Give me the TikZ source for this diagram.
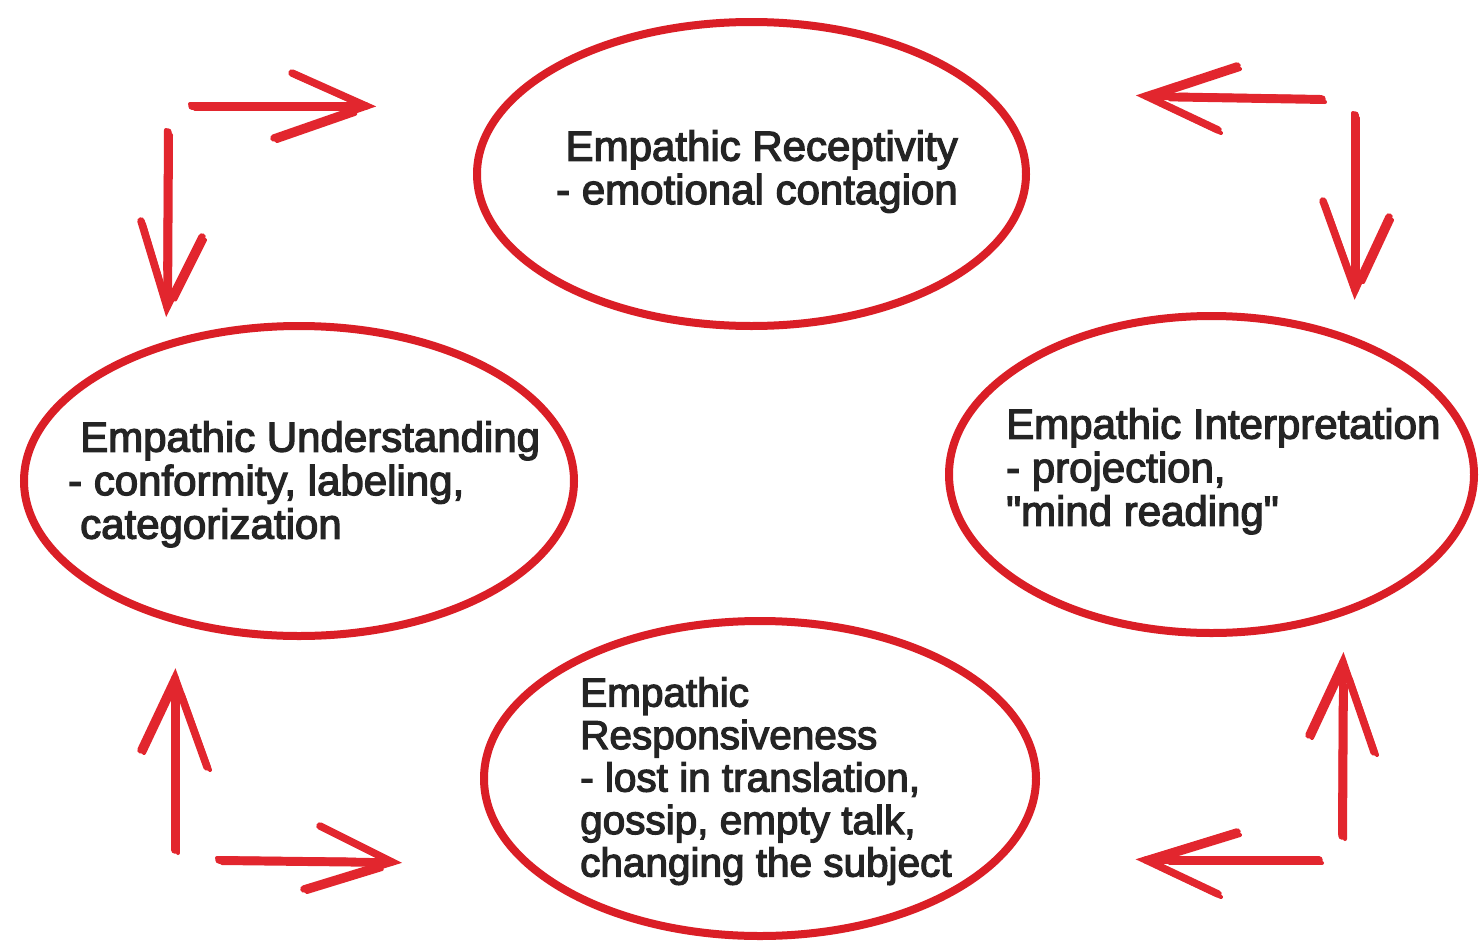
\documentclass[tikz,border=0pt]{standalone}
\usepackage{fontspec}
\newfontfamily\labfont{Liberation Sans}[FakeBold=3]
\usetikzlibrary{shapes.geometric,calc}
\definecolor{ered}{RGB}{218,30,38}
\definecolor{ared}{RGB}{226,38,46}
\definecolor{txt}{RGB}{36,36,36}
\newcommand{\sketcharrow}[4]{%
  \draw[arrmain] (#1) -- (#2);
  \draw[arrmain] (#3) -- (#2) -- (#4);
  \draw[arrthin] ($(#1)+(3,3)$) -- ($(#2)!0.12!(#1)+(3,3)$);
  \draw[arrthin] ($(#3)+(3,3)$) -- ($(#2)!0.15!(#3)+(3,3)$);
  \draw[arrthin] ($(#4)+(3,3)$) -- ($(#2)!0.15!(#4)+(3,3)$);
  \draw[arrthin] ($(#1)+(-2,-2)$) -- ($(#2)!0.2!(#1)+(-2,-2)$);
}
\begin{document}
\begin{tikzpicture}[x=1pt,y=-1pt,
  oval/.style={ellipse,draw=ered,line width=8pt,inner sep=0pt},
  lbl/.style={font=\labfont\fontsize{42}{43.5}\selectfont,text=txt,inner sep=0pt},
  arrmain/.style={draw=ared,line width=7.5pt,line cap=round,line join=miter},
  arrthin/.style={draw=ared,line width=4pt,line cap=round}]
\useasboundingbox[fill=white] (0,0) rectangle (1484,945);

% ellipses
\node[oval,minimum width=549pt,minimum height=304pt] (rec) at (751.5,174) {};
\node[oval,minimum width=550pt,minimum height=310pt] (und) at (299,481) {};
\node[oval,minimum width=525pt,minimum height=317pt] (int) at (1211.5,474.5) {};
\node[oval,minimum width=552pt,minimum height=315pt] (res) at (760,778.5) {};

% texts
\node[lbl,align=right,anchor=north east] (trec) at (958,130)
  {Empathic Receptivity\\- emotional contagion};
\node[lbl,align=left,anchor=north west] (tund) at (80,421)
  {Empathic Understanding\\\hspace*{-12pt}- conformity, labeling,\\categorization};
\node[lbl,align=left,anchor=north west] (tint) at (1006,408)
  {Empathic Interpretation\\- projection,\\"mind reading"};
\node[lbl,align=left,anchor=north west,font=\labfont\fontsize{40.5}{42.5}\selectfont] (tres) at (580,677)
  {Empathic\\Responsiveness\\- lost in translation,\\gossip, empty talk,\\changing the subject};

% arrow coordinates
\coordinate (a1s) at (192,106); \coordinate (a1t) at (366,106);
\coordinate (a1u) at (292,73);  \coordinate (a1l) at (274,138);

\coordinate (a2s) at (168,132); \coordinate (a2t) at (167,307);
\coordinate (a2l) at (141,221); \coordinate (a2r) at (202,237);

\coordinate (a3s) at (1322,99); \coordinate (a3t) at (1146,96);
\coordinate (a3u) at (1237,66); \coordinate (a3l) at (1218,130);

\coordinate (a4s) at (1355,115); \coordinate (a4t) at (1355,290);
\coordinate (a4l) at (1323,201); \coordinate (a4r) at (1389,217);

\coordinate (a5s) at (175,850); \coordinate (a5t) at (175,678);
\coordinate (a5l) at (141,750); \coordinate (a5r) at (207,767);

\coordinate (a6s) at (219,860); \coordinate (a6t) at (392,862);
\coordinate (a6u) at (320,826); \coordinate (a6l) at (304,889);

\coordinate (a7s) at (1342,836); \coordinate (a7t) at (1343,662);
\coordinate (a7l) at (1309,735); \coordinate (a7r) at (1374,752);

\coordinate (a8s) at (1319,860); \coordinate (a8t) at (1146,860);
\coordinate (a8u) at (1237,832); \coordinate (a8l) at (1218,894);

\sketcharrow{a1s}{a1t}{a1u}{a1l}
\sketcharrow{a2s}{a2t}{a2l}{a2r}
\sketcharrow{a3s}{a3t}{a3u}{a3l}
\sketcharrow{a4s}{a4t}{a4l}{a4r}
\sketcharrow{a5s}{a5t}{a5l}{a5r}
\sketcharrow{a6s}{a6t}{a6u}{a6l}
\sketcharrow{a7s}{a7t}{a7l}{a7r}
\sketcharrow{a8s}{a8t}{a8u}{a8l}
\end{tikzpicture}
\end{document}
